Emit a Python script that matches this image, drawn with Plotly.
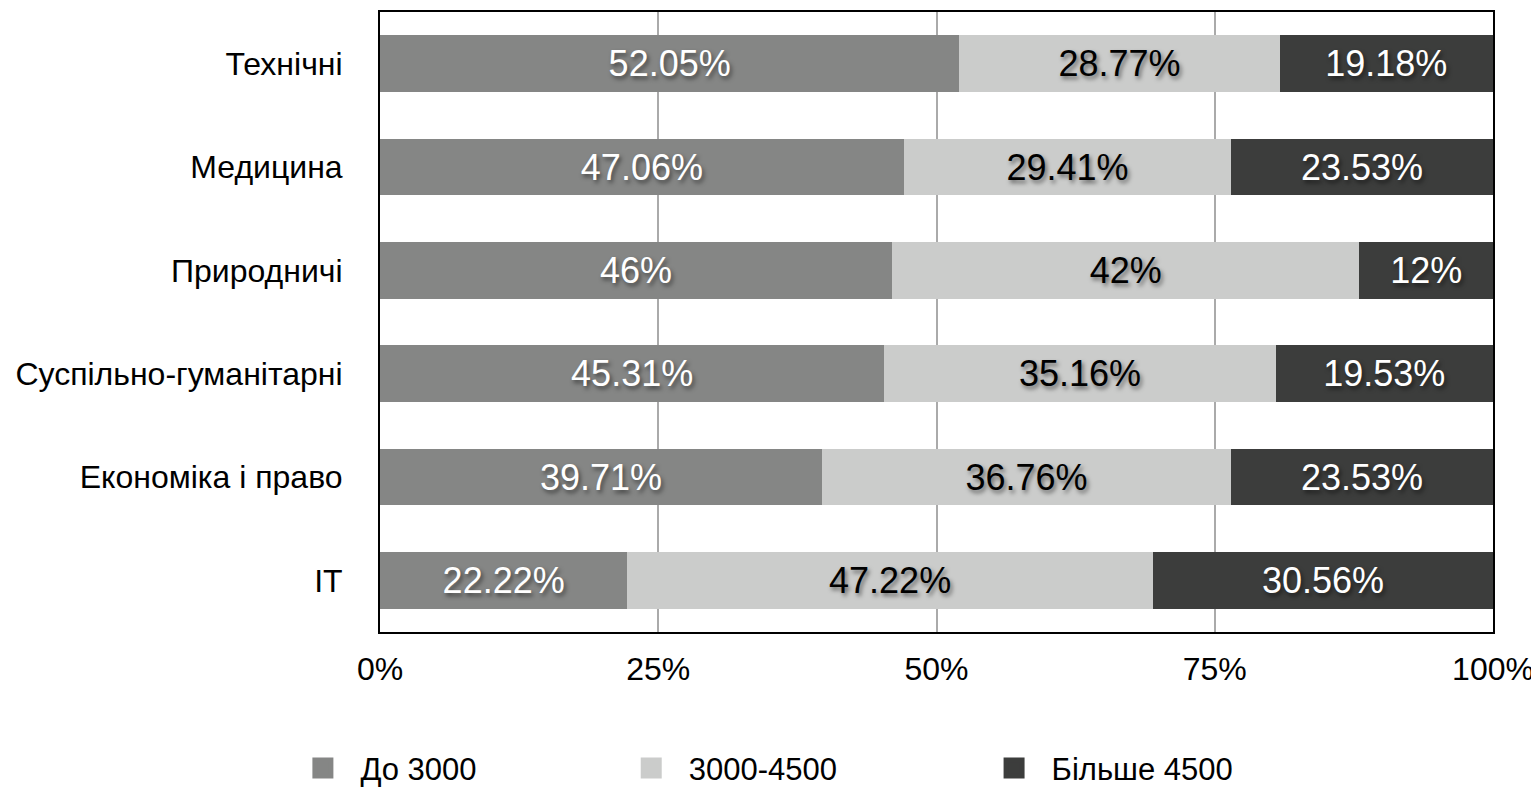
import plotly.graph_objects as go

categories = ["Технічні", "Медицина", "Природничі", "Суспільно-гуманітарні", "Економіка і право", "IT"]
series_names = ["До 3000", "3000-4500", "Більше 4500"]
low = [52.05, 47.06, 46, 45.31, 39.71, 22.22]
mid = [28.77, 29.41, 42, 35.16, 36.76, 47.22]
high = [19.18, 23.53, 12, 19.53, 23.53, 30.56]
tick_vals = [0, 25, 50, 75, 100]
tick_text = ["0%", "25%", "50%", "75%", "100%"]

colors = ["#858685", "#cbcccb", "#3c3d3c"]
text_colors = ["white", "black", "white"]
FONT = "Liberation Sans, Arial, Helvetica, sans-serif"

fig = go.Figure()
for name, vals, col, tcol in zip(series_names, [low, mid, high], colors, text_colors):
    fig.add_trace(go.Bar(
        y=categories, x=vals, orientation="h", name=name,
        marker=dict(color=col, line=dict(width=0)),
        text=[f"{v:g}%" for v in vals], textposition="inside",
        insidetextanchor="middle", constraintext="none",
        textfont=dict(family=FONT, size=36, color=tcol,
                      shadow="2px 3px 4px rgba(0,0,0,0.5)"),
        showlegend=False, hoverinfo="skip",
    ))

legend_x = [-0.085, 0.210, 0.536]
for i, (name, col) in enumerate(zip(series_names, colors)):
    lg = "legend" if i == 0 else f"legend{i+1}"
    fig.add_trace(go.Scatter(
        x=[None], y=[None], mode="markers", name=name,
        marker=dict(symbol="square", size=20, color=col, line=dict(color=col, width=5)),
        showlegend=True, legend=lg,
    ))

legend_common = dict(font=dict(family=FONT, size=31, color="black"),
                     bgcolor="rgba(0,0,0,0)", yref="container", y=0.024,
                     yanchor="middle", xanchor="left", itemsizing="trace",
                     orientation="h", itemwidth=65)
fig.update_layout(
    barmode="stack", bargap=0.45,
    width=1531, height=779,
    margin=dict(l=372, r=46, t=2, b=155),
    paper_bgcolor="white", plot_bgcolor="white",
    font=dict(family=FONT, size=32, color="black"),
    xaxis=dict(range=[0, 100], tickvals=tick_vals, ticktext=tick_text,
               showgrid=True, gridcolor="#aaaaaa", gridwidth=2,
               showline=True, linecolor="black", linewidth=2, mirror=True,
               zeroline=False, ticks="", ticklabelstandoff=8,
               tickfont=dict(size=32)),
    yaxis=dict(autorange="reversed", showgrid=False, showline=True,
               linecolor="black", linewidth=2, mirror=True, ticks="",
               ticklabelstandoff=29, tickfont=dict(size=32)),
    legend=dict(x=legend_x[0], **legend_common),
    legend2=dict(x=legend_x[1], **legend_common),
    legend3=dict(x=legend_x[2], **legend_common),
)

fig.write_html("out.html")
